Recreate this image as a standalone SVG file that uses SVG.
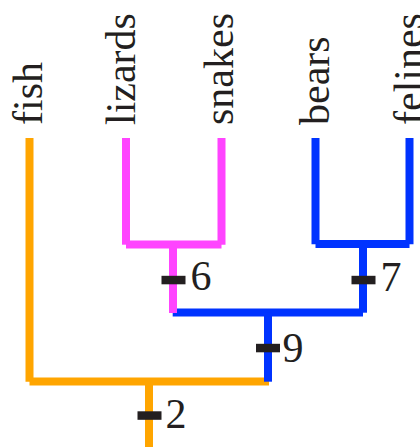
<svg xmlns="http://www.w3.org/2000/svg" width="420" height="447" viewBox="0 0 420 447">
<style>
.lbl{font-family:"Liberation Serif","Times New Roman",serif;font-size:42px;fill:#231f20}
.br{fill:none;stroke-width:8;stroke-linecap:butt}
.o{stroke:#ffa500}
.p{stroke:#ff44ff}
.b{stroke:#0033ff}
.tick{fill:#231f20}
</style>
<rect width="420" height="447" fill="#ffffff"/>
<g id="connectors">
  <line class="br o" x1="29.5" y1="138" x2="29.5" y2="381.7"/>
  <line class="br o" x1="29.5" y1="381.5" x2="269" y2="381.5"/>
  <line class="br o" x1="149" y1="381.5" x2="149" y2="447"/>
  <line class="br b" x1="315.5" y1="138" x2="315.5" y2="244.2"/>
  <line class="br b" x1="409.5" y1="138" x2="409.5" y2="244.2"/>
  <line class="br b" x1="315.5" y1="244" x2="409.5" y2="244"/>
  <line class="br b" x1="363" y1="244" x2="363" y2="312.7"/>
  <line class="br b" x1="172.7" y1="312.5" x2="363" y2="312.5"/>
  <line class="br b" x1="268" y1="312.5" x2="268" y2="381.7"/>
  <line class="br p" x1="126" y1="138" x2="126" y2="244.7"/>
  <line class="br p" x1="221.5" y1="138" x2="221.5" y2="244.7"/>
  <line class="br p" x1="126" y1="244.5" x2="221.5" y2="244.5"/>
  <line class="br p" x1="173" y1="244.5" x2="173" y2="313"/>
</g>
<g id="fish"><text class="lbl" transform="translate(41.7,125) rotate(-90)">fish</text></g>
<g id="lizards"><text class="lbl" transform="translate(135,125) rotate(-90)">lizards</text></g>
<g id="snakes"><text class="lbl" transform="translate(233,125) rotate(-90)">snakes</text></g>
<g id="bears"><text class="lbl" transform="translate(328.5,125) rotate(-90)">bears</text></g>
<g id="felines"><text class="lbl" transform="translate(423,125) rotate(-90)">felines</text></g>
<g id="node6"><rect class="tick" x="161.5" y="275.8" width="24" height="8.5"/><text class="lbl" x="190.5" y="290">6</text></g>
<g id="node7"><rect class="tick" x="351.5" y="275.8" width="24" height="8.5"/><text class="lbl" x="380.5" y="291">7</text></g>
<g id="node9"><rect class="tick" x="256" y="343.8" width="24" height="8.5"/><text class="lbl" x="282.5" y="362">9</text></g>
<g id="node2"><rect class="tick" x="137.5" y="411.3" width="24" height="8.5"/><text class="lbl" x="165.5" y="428">2</text></g>
</svg>
